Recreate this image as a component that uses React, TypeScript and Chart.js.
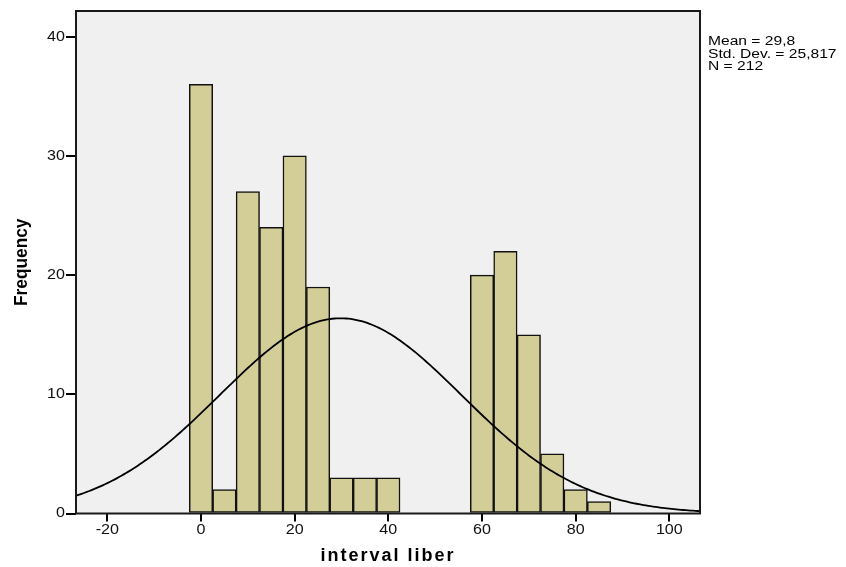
import React, { useEffect, useRef } from 'react';
import { Chart, registerables } from 'chart.js';

Chart.register(...registerables);

// ---- data ----
const binCenters = [0, 5, 10, 15, 20, 25, 30, 35, 40, 45, 50, 55, 60, 65, 70, 75, 80, 85];
const frequencies = [36, 2, 27, 24, 30, 19, 3, 3, 3, 0, 0, 0, 20, 22, 15, 5, 2, 1];
const xTickValues = [-20, 0, 20, 40, 60, 80, 100];
const yTickValues = [0, 10, 20, 30, 40];
const statLines = ['Mean = 29,8', 'Std. Dev. = 25,817', 'N = 212'];
const xTitle = 'interval liber';
const yTitle = 'Frequency';
const fitMean = 29.8;
const fitSd = 25.817;
const fitN = 212;
const binWidth = 5;
const xMin = -26.69;
const xMax = 106.55;
const yMax = 42.16;

// fitted normal curve from the displayed statistics
const curvePoints: { x: number; y: number }[] = [];
for (let x = -27; x <= 107; x += 0.5) {
  const z = (x - fitMean) / fitSd;
  curvePoints.push({
    x,
    y: (fitN * binWidth) / (fitSd * Math.sqrt(2 * Math.PI)) * Math.exp(-0.5 * z * z),
  });
}

function drawText(
  ctx: CanvasRenderingContext2D,
  text: string,
  x: number,
  y: number,
  font: string,
  align: 'left' | 'center' | 'right',
  baseline: CanvasTextBaseline,
  sx: number,
  color: string,
  spacing = 0,
) {
  ctx.save();
  ctx.font = font;
  (ctx as any).letterSpacing = spacing + 'px';
  ctx.fillStyle = color;
  ctx.textBaseline = baseline;
  ctx.textAlign = 'left';
  const w = ctx.measureText(text).width * sx;
  const x0 = align === 'center' ? x - w / 2 : align === 'right' ? x - w : x;
  ctx.translate(x0, y);
  ctx.scale(sx, 1);
  ctx.fillText(text, 0, 0);
  ctx.restore();
}

const decorPlugin = {
  id: 'decor',
  beforeDraw(chart: any) {
    const { ctx, chartArea } = chart;
    ctx.save();
    ctx.fillStyle = '#F0F0F0';
    ctx.fillRect(chartArea.left, chartArea.top, chartArea.right - chartArea.left, chartArea.bottom - chartArea.top);
    ctx.restore();
  },
  afterDraw(chart: any) {
    const { ctx, chartArea } = chart;
    const xs = chart.scales.x;
    const ys = chart.scales.y;
    ctx.save();
    ctx.strokeStyle = '#1a1a1a';
    ctx.lineWidth = 2;
    ctx.strokeRect(chartArea.left, chartArea.top, chartArea.right - chartArea.left, chartArea.bottom - chartArea.top);
    ctx.restore();

    const tickFont = '14px "Liberation Sans", Arial, sans-serif';
    xTickValues.forEach((v) => {
      drawText(ctx, String(v), xs.getPixelForValue(v), chartArea.bottom + 17, tickFont, 'center', 'middle', 1.15, '#111');
    });
    yTickValues.forEach((v) => {
      drawText(ctx, String(v), chartArea.left - 11, ys.getPixelForValue(v), tickFont, 'right', 'middle', 1.15, '#111');
    });

    const titleFont = 'bold 18px "Liberation Sans", Arial, sans-serif';
    drawText(ctx, xTitle, (chartArea.left + chartArea.right) / 2, 556, titleFont, 'center', 'middle', 1, '#000', 2);

    ctx.save();
    ctx.translate(22, (chartArea.top + chartArea.bottom) / 2);
    ctx.rotate(-Math.PI / 2);
    drawText(ctx, yTitle, 0, 0, 'bold 18px "Liberation Sans", Arial, sans-serif', 'center', 'middle', 0.96, '#000');
    ctx.restore();

    const statFont = '12px "Liberation Sans", Arial, sans-serif';
    statLines.forEach((s, i) => {
      drawText(ctx, s, chartArea.right + 8, 45 + i * 12.5, statFont, 'left', 'alphabetic', 1.3, '#000');
    });
  },
};

export default function App() {
  const ref = useRef<HTMLCanvasElement | null>(null);
  useEffect(() => {
    document.body.style.margin = '0';
    if (!ref.current) return;
    const chart = new Chart(ref.current, {
      type: 'bar',
      data: {
        datasets: [
          {
            type: 'bar',
            data: binCenters.map((c, i) => ({ x: c, y: frequencies[i] })),
            backgroundColor: '#D3CE97',
            borderColor: '#111',
            borderWidth: 1.5,
            borderSkipped: false,
            barPercentage: 1,
            categoryPercentage: 1,
            order: 2,
          } as any,
          {
            type: 'line',
            data: curvePoints,
            borderColor: '#000',
            borderWidth: 1.8,
            pointRadius: 0,
            tension: 0,
            fill: false,
            order: 1,
          } as any,
        ],
      },
      options: {
        responsive: false,
        animation: false,
        events: [],
        layout: { padding: { left: 0, top: 11, right: 146, bottom: 0 } },
        plugins: { legend: { display: false }, tooltip: { enabled: false } },
        scales: {
          x: {
            type: 'linear',
            min: xMin,
            max: xMax,
            offset: false,
            border: { display: false },
            grid: { display: true, offset: false, drawOnChartArea: false, drawTicks: true, tickLength: 8, color: '#000', lineWidth: 2 },
            ticks: { display: false },
            afterBuildTicks: (s: any) => {
              s.ticks = xTickValues.map((v) => ({ value: v }));
            },
            afterFit: (s: any) => {
              s.height = 53.5;
            },
          },
          y: {
            type: 'linear',
            min: 0,
            max: yMax,
            border: { display: false },
            grid: { display: true, drawOnChartArea: false, drawTicks: true, tickLength: 10, color: '#000', lineWidth: 2 },
            ticks: { display: false },
            afterBuildTicks: (s: any) => {
              s.ticks = yTickValues.map((v) => ({ value: v }));
            },
            afterFit: (s: any) => {
              s.width = 76;
            },
          },
        },
      },
      plugins: [decorPlugin],
    });
    return () => chart.destroy();
  }, []);
  return (
    <div style={{ position: 'absolute', left: 0, top: 0, width: 846, height: 567 }}>
      <canvas ref={ref} width={846} height={567} style={{ width: 846, height: 567, display: 'block' }} />
    </div>
  );
}
